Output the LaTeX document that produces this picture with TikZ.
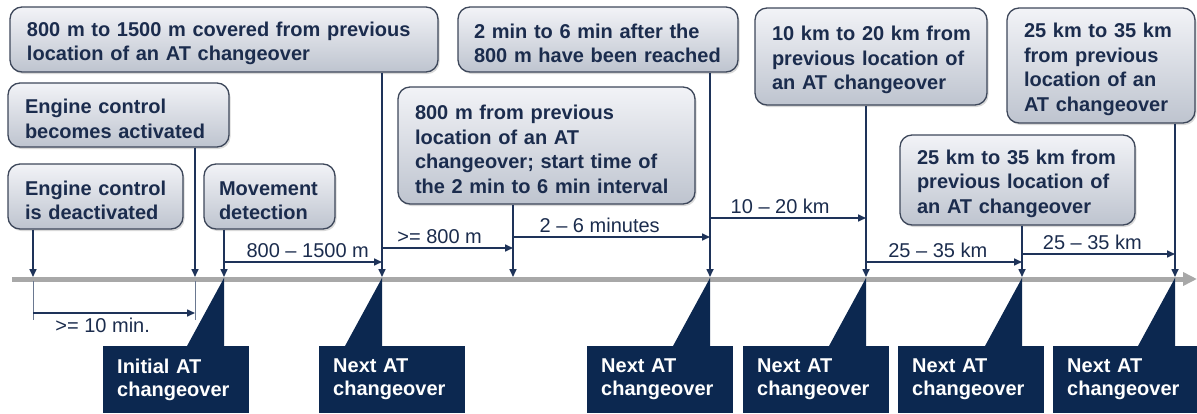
\documentclass[tikz,border=0pt]{standalone}
\usepackage{fontspec}
\setmainfont{Liberation Sans}
\usetikzlibrary{arrows.meta,shadows,calc}
\definecolor{navy}{HTML}{1B2C4D}
\definecolor{lineblue}{HTML}{1E3359}
\definecolor{callfill}{HTML}{0C2850}
\definecolor{boxborder}{HTML}{3D475A}
\definecolor{boxtop}{HTML}{F2F3F7}
\definecolor{boxbot}{HTML}{BEC4CF}
\definecolor{tline}{HTML}{A8A8A8}
\definecolor{thinline}{HTML}{6A7890}
\newcommand{\mln}[1]{\mbox{#1}}
\begin{document}
\begin{tikzpicture}[x=1pt,y=-1pt,
  box/.style={draw=boxborder, line width=1.3pt, rounded corners=12pt,
    top color=boxtop, bottom color=boxbot,
    drop shadow={opacity=0.3, shadow xshift=1.5pt, shadow yshift=-2pt},
    inner xsep=17pt, inner ysep=0pt, align=left,
    execute at begin node={\rule{0pt}{22pt}},
    font=\fontsize{20}{24.5}\selectfont\bfseries, text=navy},
  callout/.style={fill=callfill, text=white, anchor=north west,
    minimum width=146pt, minimum height=67pt, text width=118pt,
    inner xsep=14pt, inner ysep=0pt, align=left,
    font=\fontsize{20}{23}\selectfont\bfseries},
  conn/.style={draw=lineblue, line width=1.6pt, -{Triangle[length=8pt,width=7pt]}},
  thin/.style={draw=thinline, line width=0.9pt},
  lbl/.style={font=\fontsize{20}{24}\selectfont, text=navy, inner sep=0pt},
  ptr/.style={fill=callfill}
]
\useasboundingbox (0,0) rectangle (1197,413);

% timeline points
\coordinate (t1) at (33,277);
\coordinate (t2) at (195,277);
\coordinate (t3) at (224,277);
\coordinate (t4) at (382,277);
\coordinate (t5) at (513,277);
\coordinate (t6) at (710,277);
\coordinate (t7) at (866,277);
\coordinate (t8) at (1022,277);
\coordinate (t9) at (1175,277);
\coordinate (tl0) at (12,279);
\coordinate (tl1) at (1197,279);

% timeline
\draw[draw=tline, line width=5pt, -{Triangle[length=14pt,width=13pt]}] (tl0) -- (tl1);

% callouts
\node[callout] (c1) at (103,346) {\mln{Initial AT}\\\mln{changeover}};
\node[callout] (c2) at (319,346) {\mln{Next AT}\\\mln{changeover}};
\node[callout] (c3) at (587,346) {\mln{Next AT}\\\mln{changeover}};
\node[callout] (c4) at (743,346) {\mln{Next AT}\\\mln{changeover}};
\node[callout] (c5) at (898,346) {\mln{Next AT}\\\mln{changeover}};
\node[callout] (c6) at (1053,346) {\mln{Next AT}\\\mln{changeover}};
\foreach \t/\c in {t3/c1,t4/c2,t6/c3,t7/c4,t8/c5,t9/c6}{
  \fill[ptr] ($(\t)+(0,1)$) -- (\t |- \c.north) -- ($(\t |- \c.north)+(-37,0)$) -- cycle;
}

% boxes
\node[box, minimum width=428pt, minimum height=65pt, text width=394pt] (b1) at (224,39.5)
  {\mln{800 m to 1500 m covered from previous}\\\mln{location of an AT changeover}};
\node[box, minimum width=221pt, minimum height=64pt, text width=187pt] (b2) at (118.5,115)
  {\mln{Engine control}\\\mln{becomes activated}};
\node[box, minimum width=175pt, minimum height=65pt, text width=141pt] (b3) at (95.5,196.5)
  {\mln{Engine control}\\\mln{is deactivated}};
\node[box, minimum width=131pt, minimum height=65pt, text width=101pt, inner xsep=15pt] (b4) at (269.5,196.5)
  {\mln{Movement}\\\mln{detection}};
\node[box, minimum width=297pt, minimum height=117pt, text width=263pt] (b5) at (546.5,145.5)
  {\mln{800 m from previous}\\\mln{location of an AT}\\\mln{changeover; start time of}\\\mln{the 2 min to 6 min interval}};
\node[box, minimum width=280pt, minimum height=65pt, text width=248pt, inner xsep=16pt] (b6) at (598,39.5)
  {\mln{2 min to 6 min after the}\\\mln{800 m have been reached}};
\node[box, minimum width=232pt, minimum height=97pt, text width=198pt] (b7) at (871,56.5)
  {\mln{10 km to 20 km from}\\\mln{previous location of}\\\mln{an AT changeover}};
\node[box, minimum width=188pt, minimum height=115pt, text width=154pt] (b8) at (1101,65.5)
  {\mln{25 km to 35 km}\\\mln{from previous}\\\mln{location of an}\\\mln{AT changeover}};
\node[box, minimum width=235pt, minimum height=90pt, text width=201pt] (b9) at (1017.5,180)
  {\mln{25 km to 35 km from}\\\mln{previous location of}\\\mln{an AT changeover}};

% vertical connectors
\draw[conn] (b3.south -| t1) -- (t1);
\draw[conn] (b2.south -| t2) -- (t2);
\draw[conn] (b4.south -| t3) -- (t3);
\draw[conn] (b1.south -| t4) -- (t4);
\draw[conn] (b5.south -| t5) -- (t5);
\draw[conn] (b6.south -| t6) -- (t6);
\draw[conn] (b7.south -| t7) -- (t7);
\draw[conn] (b9.south -| t8) -- (t8);
\draw[conn] (b8.south -| t9) -- (t9);

% interval arrows
\coordinate (h1) at (0,262);
\coordinate (h2) at (0,248);
\coordinate (h3) at (0,237);
\coordinate (h4) at (0,218);
\coordinate (h5) at (0,262);
\coordinate (h6) at (0,254);
\draw[conn] (t3 |- h1) -- (t4 |- h1) node[lbl, pos=0.53, anchor=base, yshift=5pt] {800 -- 1500 m};
\draw[conn] (t4 |- h2) -- (t5 |- h2) node[lbl, pos=0.44, anchor=base, yshift=5pt] {>= 800 m};
\draw[conn] (t5 |- h3) -- (t6 |- h3) node[lbl, pos=0.44, anchor=base, yshift=5pt] {2 -- 6 minutes};
\draw[conn] (t6 |- h4) -- (t7 |- h4) node[lbl, pos=0.45, anchor=base, yshift=5pt] {10 -- 20 km};
\draw[conn] (t7 |- h5) -- (t8 |- h5) node[lbl, pos=0.46, anchor=base, yshift=5pt] {25 -- 35 km};
\draw[conn] (t8 |- h6) -- (t9 |- h6) node[lbl, pos=0.46, anchor=base, yshift=5pt] {25 -- 35 km};

% >= 10 min bracket
\coordinate (k0) at (0,281);
\coordinate (k1) at (0,320);
\coordinate (k2) at (0,313);
\draw[thin] (t1 |- k0) -- (t1 |- k1);
\draw[thin] (t2 |- k0) -- (t2 |- k1);
\draw[conn] (t1 |- k2) -- (t2 |- k2) node[lbl, pos=0.43, anchor=base, yshift=-19pt] {>= 10 min.};
\end{tikzpicture}
\end{document}
